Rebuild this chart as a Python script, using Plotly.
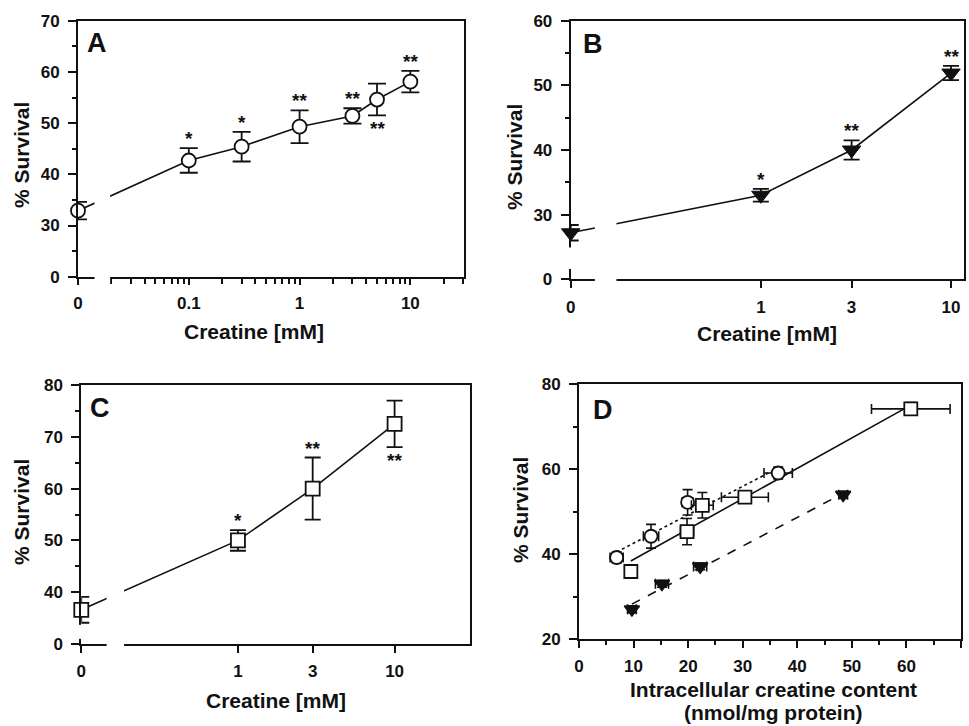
import numpy as np
import plotly.graph_objects as go

# ---------------- data ----------------
# Panel A
A_conc = [0, 0.1, 0.3, 1, 3, 5, 10]
A_surv = [32.9, 42.7, 45.4, 49.3, 51.4, 54.6, 58.1]
A_sem = [1.7, 2.4, 2.9, 3.2, 1.5, 3.1, 2.1]
A_sig = ["", "*", "*", "**", "**", "**", "**"]
A_sig_below = [False, False, False, False, False, True, False]

# Panel B
B_conc = [0, 1, 3, 10]
B_surv = [27.2, 33.0, 40.0, 51.9]
B_sem = [1.2, 1.0, 1.5, 1.1]
B_sig = ["", "*", "**", "**"]
B_sig_below = [False, False, False, False]

# Panel C
C_conc = [0, 1, 3, 10]
C_surv = [36.6, 50.0, 60.0, 72.5]
C_sem = [2.5, 2.0, 6.0, 4.5]
C_sig = ["", "*", "**", "**"]
C_sig_below = [False, False, False, True]

# Panel D (intracellular creatine vs survival)
D_circ_x = [6.9, 13.2, 19.9, 36.5]
D_circ_xerr = [1.2, 1.4, 1.0, 2.6]
D_circ_y = [39.2, 44.2, 52.2, 59.1]
D_circ_yerr = [1.3, 2.8, 3.0, 1.4]

D_sq_x = [9.5, 19.8, 22.6, 30.4, 60.8]
D_sq_xerr = [0.8, 1.2, 2.0, 4.3, 7.2]
D_sq_y = [35.9, 45.3, 51.5, 53.4, 74.2]
D_sq_yerr = [0.9, 3.1, 3.0, 0.8, 1.5]

D_tri_x = [9.7, 15.2, 22.2, 48.4]
D_tri_xerr = [0.8, 1.2, 1.2, 0.8]
D_tri_y = [27.0, 33.0, 37.1, 54.0]
D_tri_yerr = [0.8, 0.8, 0.8, 0.8]

# axis tick labels
A_xtickvals = [0.01, 0.1, 1, 10]
A_xticktext = ["0", "0.1", "1", "10"]
BC_xtickvals = [0.1, 1, 3, 10]
BC_xticktext = ["0", "1", "3", "10"]
A_ytickvals = [20, 30, 40, 50, 60, 70]
A_yticktext = ["0", "30", "40", "50", "60", "70"]
B_ytickvals = [20, 30, 40, 50, 60]
B_yticktext = ["0", "30", "40", "50", "60"]
C_ytickvals = [30, 40, 50, 60, 70, 80]
C_yticktext = ["0", "40", "50", "60", "70", "80"]
D_xtickvals = [0, 10, 20, 30, 40, 50, 60, 70]
D_ytickvals = [20, 40, 60, 80]

# position used to draw "0" concentration on the broken log axes
A_ZERO = 0.01
BC_ZERO = 0.1

BLACK = "#111111"
FONT = "Arial, Liberation Sans, Helvetica, sans-serif"


def zpos(conc, zero):
    return [zero if c == 0 else c for c in conc]


def bold(labels):
    return ["<b>%s</b>" % t for t in labels]


fig = go.Figure()

# ---------- Panel A ----------
fig.add_trace(go.Scatter(
    x=zpos(A_conc, A_ZERO), y=A_surv, xaxis="x", yaxis="y",
    mode="lines+markers", cliponaxis=False,
    line=dict(color=BLACK, width=1.6),
    marker=dict(symbol="circle", size=14, color="white", line=dict(color=BLACK, width=1.8)),
    error_y=dict(type="data", array=A_sem, color=BLACK, thickness=1.8, width=9),
))

# ---------- Panel B ----------
fig.add_trace(go.Scatter(
    x=zpos(B_conc, BC_ZERO), y=B_surv, xaxis="x2", yaxis="y2",
    mode="lines+markers", cliponaxis=False,
    line=dict(color=BLACK, width=1.6),
    marker=dict(symbol="triangle-down", size=16, color=BLACK, line=dict(color=BLACK, width=1)),
    error_y=dict(type="data", array=B_sem, color=BLACK, thickness=1.8, width=8),
))

# ---------- Panel C ----------
fig.add_trace(go.Scatter(
    x=zpos(C_conc, BC_ZERO), y=C_surv, xaxis="x3", yaxis="y3",
    mode="lines+markers", cliponaxis=False,
    line=dict(color=BLACK, width=1.6),
    marker=dict(symbol="square", size=14, color="white", line=dict(color=BLACK, width=1.8)),
    error_y=dict(type="data", array=C_sem, color=BLACK, thickness=1.8, width=8),
))

# ---------- Panel D ----------
def fit_line(xs, ys):
    k, b = np.polyfit(xs, ys, 1)
    xl = [min(xs), max(xs)]
    return xl, [k * v + b for v in xl]

for xs, ys, dash in [(D_circ_x, D_circ_y, "dot"), (D_sq_x, D_sq_y, "solid"), (D_tri_x, D_tri_y, "dash")]:
    xl, yl = fit_line(xs, ys)
    fig.add_trace(go.Scatter(x=xl, y=yl, xaxis="x4", yaxis="y4", mode="lines",
                             line=dict(color=BLACK, width=1.6, dash=dash)))

for xs, xe, ys, ye, sym, fill in [
    (D_circ_x, D_circ_xerr, D_circ_y, D_circ_yerr, "circle", "white"),
    (D_sq_x, D_sq_xerr, D_sq_y, D_sq_yerr, "square", "white"),
    (D_tri_x, D_tri_xerr, D_tri_y, D_tri_yerr, "triangle-down", BLACK),
]:
    fig.add_trace(go.Scatter(
        x=xs, y=ys, xaxis="x4", yaxis="y4", mode="markers", cliponaxis=False,
        marker=dict(symbol=sym, size=13, color=fill, line=dict(color=BLACK, width=1.8)),
        error_x=dict(type="data", array=xe, color=BLACK, thickness=1.6, width=5),
        error_y=dict(type="data", array=ye, color=BLACK, thickness=1.6, width=5),
    ))

# ---------------- axes ----------------
tickfont = dict(family=FONT, size=17, color=BLACK)
common = dict(showline=True, linecolor=BLACK, linewidth=2, mirror=True, showgrid=False,
              zeroline=False, ticks="outside", tickcolor=BLACK, tickwidth=2,
              tickfont=tickfont, automargin=False)


def decade_minors(lo, hi):
    out = []
    for e in range(lo, hi + 1):
        for m in range(2, 10):
            out.append(m * 10.0 ** e)
    return out


A_minor = [v for v in decade_minors(-2, 1) if 0.019 < v <= 30.5]

dom = dict(
    A=([78 / 969, 464 / 969], [1 - 276.7 / 726, 1 - 20.7 / 726]),
    B=([570.7 / 969, 964 / 969], [1 - 279.3 / 726, 1 - 20.7 / 726]),
    C=([81.3 / 969, 470 / 969], [1 - 644 / 726, 1 - 385 / 726]),
    D=([579 / 969, 961 / 969], [1 - 639 / 726, 1 - 384.3 / 726]),
)

def minor(vals, ln=4):
    return dict(tickmode="array", tickvals=vals, ticks="outside", ticklen=ln, tickwidth=1.5, tickcolor=BLACK)

XSTAND = 4
YSTAND = 5
fig.update_layout(
    xaxis=dict(common, type="log", domain=dom["A"][0], anchor="y", range=[np.log10(A_ZERO), np.log10(30.5)],
               tickmode="array", tickvals=A_xtickvals, ticktext=bold(A_xticktext), ticklen=6, ticklabelstandoff=XSTAND,
               minor=minor(A_minor, 5)),
    yaxis=dict(common, domain=dom["A"][1], anchor="x", range=[20, 70],
               tickmode="array", tickvals=A_ytickvals, ticktext=bold(A_yticktext), ticklen=8, ticklabelstandoff=YSTAND,
               minor=minor([25, 35, 45, 55, 65])),
    xaxis2=dict(common, type="log", domain=dom["B"][0], anchor="y2", range=[np.log10(BC_ZERO), np.log10(11.7)],
                tickmode="array", tickvals=BC_xtickvals, ticktext=bold(BC_xticktext), ticklen=7, ticklabelstandoff=XSTAND),
    yaxis2=dict(common, domain=dom["B"][1], anchor="x2", range=[20, 60],
                tickmode="array", tickvals=B_ytickvals, ticktext=bold(B_yticktext), ticklen=8, ticklabelstandoff=YSTAND,
                minor=minor([35, 45, 55])),
    xaxis3=dict(common, type="log", domain=dom["C"][0], anchor="y3", range=[np.log10(BC_ZERO), np.log10(30.3)],
                tickmode="array", tickvals=BC_xtickvals, ticktext=bold(BC_xticktext), ticklen=7, ticklabelstandoff=XSTAND),
    yaxis3=dict(common, domain=dom["C"][1], anchor="x3", range=[30, 80],
                tickmode="array", tickvals=C_ytickvals, ticktext=bold(C_yticktext), ticklen=8, ticklabelstandoff=YSTAND,
                minor=minor([45, 55, 65, 75])),
    xaxis4=dict(common, domain=dom["D"][0], anchor="y4", range=[0, 70],
                tickmode="array", tickvals=D_xtickvals, ticktext=bold([str(v) for v in D_xtickvals]),
                ticklen=7, ticklabelstandoff=XSTAND, minor=minor(list(range(5, 70, 10)))),
    yaxis4=dict(common, domain=dom["D"][1], anchor="x4", range=[20, 80],
                tickmode="array", tickvals=D_ytickvals, ticktext=bold([str(v) for v in D_ytickvals]),
                ticklen=8, ticklabelstandoff=YSTAND, minor=minor([30, 50, 70])),
)

# ---------------- axis breaks (white masks) ----------------
shapes = []
def xbreak(xref, yref_dom, x0, x1, ytop):
    shapes.append(dict(type="rect", xref=xref, yref=yref_dom, x0=x0, x1=x1, y0=-0.05, y1=ytop,
                       fillcolor="white", line=dict(width=0), layer="above"))

def ybreak(xref_dom, yref, y0, y1):
    shapes.append(dict(type="rect", xref=xref_dom, yref=yref, x0=-0.03, x1=0.03, y0=y0, y1=y1,
                       fillcolor="white", line=dict(width=0), layer="above"))

xbreak("x", "y domain", 0.0141, 0.0195, 0.36)
xbreak("x2", "y2 domain", 0.134, 0.174, 0.25)
xbreak("x3", "y3 domain", 0.145, 0.1875, 0.24)
ybreak("x2 domain", "y2", 21.6, 24.9)
ybreak("x3 domain", "y3", 31.0, 33.7)
fig.update_layout(shapes=shapes)

# ---------------- annotations ----------------
ann = []
def sig_marks(xaxis, yaxis, conc, zero, surv, sem, sig, below, logx=True):
    for c, s, e, t, b in zip(conc, surv, sem, sig, below):
        if not t:
            continue
        xv = zero if c == 0 else c
        ann.append(dict(xref=xaxis, yref=yaxis, x=np.log10(xv) if logx else xv,
                        y=(s - e) if b else (s + e), text="<b>%s</b>" % t, showarrow=False,
                        yanchor="top" if b else "bottom", yshift=-1 if b else -3,
                        font=dict(family=FONT, size=19, color=BLACK)))

sig_marks("x", "y", A_conc, A_ZERO, A_surv, A_sem, A_sig, A_sig_below)
sig_marks("x2", "y2", B_conc, BC_ZERO, B_surv, B_sem, B_sig, B_sig_below)
sig_marks("x3", "y3", C_conc, BC_ZERO, C_surv, C_sem, C_sig, C_sig_below)

title_font = dict(family=FONT, size=21, color=BLACK)
label_font = dict(family=FONT, size=27, color=BLACK)

def paper_text(x_px, y_px, text, font, angle=0, xanchor="center"):
    ann.append(dict(xref="paper", yref="paper", x=x_px / 969, y=1 - y_px / 726, text="<b>%s</b>" % text,
                    showarrow=False, font=font, textangle=angle, xanchor=xanchor, yanchor="middle"))

# panel letters
paper_text(85, 43, "A", label_font, xanchor="left")
paper_text(581, 44, "B", label_font, xanchor="left")
paper_text(88, 408, "C", label_font, xanchor="left")
paper_text(591, 410, "D", label_font, xanchor="left")

# axis titles
paper_text(21, 155, "% Survival", title_font, angle=-90)
paper_text(514, 157, "% Survival", title_font, angle=-90)
paper_text(21, 512, "% Survival", title_font, angle=-90)
paper_text(520, 510, "% Survival", title_font, angle=-90)
paper_text(254, 331, "Creatine [mM]", title_font)
paper_text(767, 333, "Creatine [mM]", title_font)
paper_text(276, 700, "Creatine [mM]", title_font)
paper_text(773, 689, "Intracellular creatine content", title_font)
paper_text(773, 712, "(nmol/mg protein)", title_font)

fig.update_layout(annotations=ann)

fig.update_layout(
    width=969, height=726, template="none", showlegend=False,
    paper_bgcolor="white", plot_bgcolor="white",
    margin=dict(l=0, r=0, t=0, b=0),
)

fig.write_html("out.html", config={"displayModeBar": False},
               post_script="document.body.style.margin='0';document.body.style.overflow='hidden';")
